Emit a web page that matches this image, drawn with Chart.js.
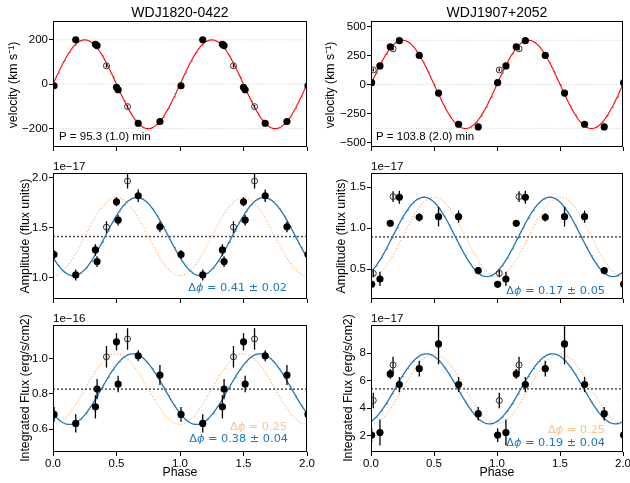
<!DOCTYPE html>
<html><head><meta charset="utf-8">
<script src="https://cdn.jsdelivr.net/npm/chart.js@4.4.1/dist/chart.umd.min.js"></script>
<style>
html,body{margin:0;padding:0;background:#fff}
body{width:630px;height:483px;position:relative;overflow:hidden}
canvas{position:absolute}
</style>
</head><body>
<script>
// ---------- data ----------
const phaseTicks = [0, 0.5, 1, 1.5, 2];
const phaseTickLabels = ['0.0', '0.5', '1.0', '1.5', '2.0'];
const cycles = [0, 1, 2];

// WDJ1820-0422
const a_phase = [0.008, 0.179, 0.334, 0.347, 0.500, 0.513, 0.671, 0.842];
const a_phaseOpen = [0.421, 0.587];
const a_vel = [-7, 200, 180, 174, -14, -25, -176, -168];
const a_velErr = [6, 6, 6, 6, 6, 6, 6, 6];
const a_velOpen = [83, -101];
const a_velOpenErr = [8, 8];
const a_amp = [1.233, 1.030, 1.280, 1.163, 1.760, 1.577, 1.820, 1.510];
const a_ampErr = [0.045, 0.055, 0.057, 0.053, 0.045, 0.053, 0.063, 0.053];
const a_ampOpen = [1.507, 1.967];
const a_ampOpenErr = [0.058, 0.075];
const a_flux = [0.683, 0.632, 0.726, 0.826, 1.094, 0.855, 1.015, 0.906];
const a_fluxErr = [0.042, 0.052, 0.066, 0.057, 0.049, 0.047, 0.031, 0.057];
const a_fluxOpen = [1.009, 1.110];
const a_fluxOpenErr = [0.061, 0.061];

// WDJ1907+2052
const b_phase = [0.005, 0.071, 0.153, 0.225, 0.383, 0.536, 0.695, 0.851];
const b_phaseOpen = [0.018, 0.175];
const b_vel = [14, 159, 324, 376, 249, -75, -344, -367];
const b_velErr = [10, 10, 10, 10, 10, 10, 10, 10];
const b_velOpen = [124, 306];
const b_velOpenErr = [14, 14];
const b_amp = [0.317, 0.382, 1.061, 1.378, 1.134, 1.142, 1.142, 0.484];
const b_ampErr = [0.037, 0.087, 0.040, 0.080, 0.050, 0.120, 0.075, 0.043];
const b_ampOpen = [0.451, 1.386];
const b_ampOpenErr = [0.047, 0.067];
const b_flux = [2.04, 2.23, 6.50, 5.72, 6.88, 8.68, 5.72, 3.60];
const b_fluxErr = [0.50, 0.95, 0.36, 0.55, 0.58, 1.48, 0.55, 0.49];
const b_fluxOpen = [4.56, 7.15];
const b_fluxOpenErr = [0.57, 0.60];

// fitted sinusoids: [WDJ1820-0422, WDJ1907+2052]
const velSemiAmp = [200, 380];
const velPeakPhase = [0.25, 0.25];
const ampMean = [1.413, 0.895];
const ampSemi = [0.390, 0.484];
const ampPeakPhase = [0.66, 0.42];
const fluxMean = [0.826, 5.41];
const fluxSemi = [0.200, 2.55];
const fluxPeakPhase = [0.63, 0.44];
const refPeakPhase = [0.50, 0.50];

// tick values
const velTicksA = [-200, 0, 200];
const velTicksB = [-500, -250, 0, 250, 500];
const ampTicksA = [1.0, 1.5, 2.0];
const ampTicksB = [0.5, 1.0, 1.5];
const fluxTicksA = [0.6, 0.8, 1.0];
const fluxTicksB = [2, 4, 6, 8];

// ---------- helpers ----------
const FONT = "'Liberation Sans', Arial, Helvetica, sans-serif";
const MFONT = "'DejaVu Sans', sans-serif";
const BLUE = '#1f77b4';
const ORANGE = 'rgba(255,127,14,0.65)';
const ORANGE_TXT = 'rgba(255,127,14,0.5)';
const TICK_SIZE = 11.5;
const LABEL_SIZE = 12.3;

function fitCurve(mean, semi, peak) {
  const pts = [];
  for (let i = 0; i <= 300; i++) {
    const x = 2 * i / 300;
    pts.push({x: x, y: mean + semi * Math.cos(2 * Math.PI * (x - peak))});
  }
  return pts;
}
function folded(ph, vals, errs) {
  const pts = [];
  cycles.forEach(c => ph.forEach((p, i) => pts.push({x: p + c, y: vals[i], e: errs ? errs[i] : 0})));
  return pts;
}
function hline(v) { return [{x: 0, y: v}, {x: 2, y: v}]; }

function filledSet(ph, v, e) {
  return {data: folded(ph, v, e), showLine: false, pointRadius: 3.6, pointBorderWidth: 0,
    pointBackgroundColor: '#000', pointBorderColor: '#000', errorBars: true, clip: 0, order: 0};
}
function openSet(ph, v, e) {
  return {data: folded(ph, v, e), showLine: false, pointRadius: 3, pointBorderWidth: 1,
    pointBackgroundColor: 'rgba(0,0,0,0)', pointBorderColor: '#333', errorBars: true, clip: 0, order: 1};
}
function lineSet(pts, color, width, dash, order) {
  return {data: pts, showLine: true, pointRadius: 0, borderColor: color, borderWidth: width,
    borderDash: dash || [], fill: false, clip: 0, order: order};
}

const errorBars = {
  id: 'errorBars',
  beforeDatasetDraw(chart, args) {
    const ds = chart.data.datasets[args.index];
    if (!ds.errorBars) return;
    const {ctx, chartArea: a, scales: {x, y}} = chart;
    ctx.save();
    ctx.beginPath(); ctx.rect(a.left, a.top, a.right - a.left, a.bottom - a.top); ctx.clip();
    ctx.strokeStyle = '#000'; ctx.lineWidth = 1.3;
    ds.data.forEach(p => {
      if (!p.e) return;
      const px = x.getPixelForValue(p.x);
      ctx.beginPath();
      ctx.moveTo(px, y.getPixelForValue(p.y - p.e));
      ctx.lineTo(px, y.getPixelForValue(p.y + p.e));
      ctx.stroke();
    });
    ctx.restore();
  }
};
const frame = {
  id: 'frame',
  afterDatasetsDraw(chart) {
    const {ctx, chartArea: a} = chart;
    ctx.save(); ctx.strokeStyle = '#000'; ctx.lineWidth = 1;
    ctx.strokeRect(Math.round(a.left) + 0.5, Math.round(a.top) + 0.5,
      Math.round(a.right - a.left) - 1, Math.round(a.bottom - a.top) - 1);
    ctx.restore();
  }
};

function drawSegments(ctx, segs, x, y, align, size, color) {
  const fonts = segs.map(s => (s.it ? 'italic ' : '') + size + 'px ' + MFONT);
  let w = 0;
  segs.forEach((s, i) => { ctx.font = fonts[i]; w += ctx.measureText(s.t).width; });
  let cx = align === 'right' ? x - w : (align === 'center' ? x - w / 2 : x);
  ctx.fillStyle = color; ctx.textBaseline = 'middle'; ctx.textAlign = 'left';
  segs.forEach((s, i) => { ctx.font = fonts[i]; ctx.fillText(s.t, cx, y); cx += ctx.measureText(s.t).width; });
}

function makeTextPlugin(texts, ox, oy) {
  return {
    id: 'texts',
    afterDraw(chart) {
      const ctx = chart.ctx;
      texts.forEach(t => {
        ctx.save();
        const x = t.x - ox, y = t.y - oy;
        if (t.segs) { drawSegments(ctx, t.segs, x, y, t.align, t.size || 11, t.color || '#000'); ctx.restore(); return; }
        ctx.font = (t.size || 11) + 'px ' + (t.font || FONT);
        ctx.fillStyle = t.color || '#000';
        ctx.textAlign = t.align || 'left';
        ctx.textBaseline = 'middle';
        ctx.translate(x, y);
        if (t.rot) ctx.rotate(-Math.PI / 2);
        ctx.fillText(t.text, 0, 0);
        ctx.restore();
      });
    }
  };
}

function dphi(val, color, x, y) {
  return {segs: [{t: 'Δ'}, {t: 'ϕ', it: true}, {t: ' = ' + val}], x: x, y: y, align: 'right', color: color, size: 11.3};
}

function makeChart(p) {
  const [cl, ct, cw, ch] = p.canvas;
  const [pl, pt, pr, pb] = p.plot;
  const cv = document.createElement('canvas');
  cv.width = cw; cv.height = ch;
  cv.style.left = cl + 'px'; cv.style.top = ct + 'px';
  cv.style.width = cw + 'px'; cv.style.height = ch + 'px';
  document.body.appendChild(cv);
  const tickFont = {family: FONT, size: TICK_SIZE};
  new Chart(cv, {
    type: 'scatter',
    data: {datasets: p.datasets},
    options: {
      responsive: false, animation: false, devicePixelRatio: 1, events: [],
      layout: {padding: {left: 0, top: pt - ct, right: (cl + cw) - pr, bottom: 0}},
      plugins: {legend: {display: false}, tooltip: {enabled: false}, title: {display: false}},
      scales: {
        x: {
          type: 'linear', min: 0, max: 2,
          afterBuildTicks: s => { s.ticks = phaseTicks.map(v => ({value: v})); },
          ticks: {autoSkip: false, maxRotation: 0, padding: 1, color: '#000', font: tickFont,
            callback: v => p.xLabels ? phaseTickLabels[phaseTicks.indexOf(v)] : ''},
          grid: {drawOnChartArea: false, drawTicks: true, tickLength: 4, color: '#000', tickColor: '#000', lineWidth: 1},
          border: {display: false},
          afterFit: s => { s.height = (ct + ch) - pb; s.paddingLeft = 0; s.paddingRight = 0; }
        },
        y: {
          type: 'linear', min: p.ymin, max: p.ymax,
          afterBuildTicks: s => { s.ticks = p.yTicks.map(v => ({value: v})); },
          ticks: {autoSkip: false, padding: 1, color: '#000', font: tickFont,
            callback: v => p.yFmt(v)},
          grid: {drawOnChartArea: false, drawTicks: true, tickLength: 4, color: '#000', tickColor: '#000', lineWidth: 1},
          border: {display: false},
          afterFit: s => { s.width = pl - cl; s.paddingTop = 0; s.paddingBottom = 0; }
        }
      }
    },
    plugins: [errorBars, frame, makeTextPlugin(p.texts, cl, ct)]
  });
}

const minus = s => s.replace('-', '\u2212');
const fmtInt = v => minus(String(v));
const fmt1 = v => v.toFixed(1);

function velSets(k, ph, v, e, phO, vO, eO) {
  return [
    lineSet(hline(velSemiAmp[k]), '#c8c8c8', 0.8, [1, 1.5], 6),
    lineSet(hline(0), '#c8c8c8', 0.8, [1, 1.5], 6),
    lineSet(hline(-velSemiAmp[k]), '#c8c8c8', 0.8, [1, 1.5], 6),
    lineSet(fitCurve(0, velSemiAmp[k], velPeakPhase[k]), '#ff0000', 1.1, null, 3),
    filledSet(ph, v, e), openSet(phO, vO, eO)
  ];
}
function modSets(mean, semi, peak, refPeak, ph, v, e, phO, vO, eO) {
  return [
    lineSet(hline(mean), 'rgba(0,0,0,0.7)', 1.5, [2, 2], 6),
    lineSet(fitCurve(mean, semi, refPeak), ORANGE, 1.2, [1, 2], 5),
    lineSet(fitCurve(mean, semi, peak), BLUE, 1.3, null, 4),
    filledSet(ph, v, e), openSet(phO, vO, eO)
  ];
}

const panels = [
  { canvas: [0, 0, 340, 160], plot: [53, 21, 307, 147], ymin: -283, ymax: 285, yTicks: velTicksA, yFmt: fmtInt,
    datasets: velSets(0, a_phase, a_vel, a_velErr, a_phaseOpen, a_velOpen, a_velOpenErr),
    texts: [
      {text: 'WDJ1820-0422', x: 180, y: 13, align: 'center', size: 14},
      {text: 'P = 95.3 (1.0) min', x: 59, y: 137, size: 11.5},
      {text: 'velocity (km s\u207B\u00B9)', x: 14, y: 85, align: 'center', rot: true, size: LABEL_SIZE}
    ]},
  { canvas: [310, 0, 320, 160], plot: [371, 21, 623, 147], ymin: -540, ymax: 546, yTicks: velTicksB, yFmt: fmtInt,
    datasets: velSets(1, b_phase, b_vel, b_velErr, b_phaseOpen, b_velOpen, b_velOpenErr),
    texts: [
      {text: 'WDJ1907+2052', x: 497, y: 13, align: 'center', size: 14},
      {text: 'P = 103.8 (2.0) min', x: 376, y: 137, size: 11.5},
      {text: 'velocity (km s\u207B\u00B9)', x: 331, y: 85, align: 'center', rot: true, size: LABEL_SIZE}
    ]},
  { canvas: [0, 160, 340, 152], plot: [53, 173, 307, 299], ymin: 0.79, ymax: 2.047, yTicks: ampTicksA, yFmt: fmt1,
    datasets: modSets(ampMean[0], ampSemi[0], ampPeakPhase[0], refPeakPhase[0], a_phase, a_amp, a_ampErr, a_phaseOpen, a_ampOpen, a_ampOpenErr),
    texts: [
      {text: '1e\u221217', x: 53, y: 167, size: 11.5},
      {text: 'Amplitude (flux units)', x: 26, y: 236, align: 'center', rot: true, size: LABEL_SIZE},
      dphi('0.41 ± 0.02', BLUE, 287, 288)
    ]},
  { canvas: [310, 160, 320, 152], plot: [371, 173, 623, 299], ymin: 0.138, ymax: 1.674, yTicks: ampTicksB, yFmt: fmt1,
    datasets: modSets(ampMean[1], ampSemi[1], ampPeakPhase[1], refPeakPhase[1], b_phase, b_amp, b_ampErr, b_phaseOpen, b_ampOpen, b_ampOpenErr),
    texts: [
      {text: '1e\u221217', x: 371, y: 167, size: 11.5},
      {text: 'Amplitude (flux units)', x: 342, y: 236, align: 'center', rot: true, size: LABEL_SIZE},
      dphi('0.17 ± 0.05', BLUE, 605, 291)
    ]},
  { canvas: [0, 312, 340, 171], plot: [53, 325, 307, 452], ymin: 0.47, ymax: 1.189, yTicks: fluxTicksA, yFmt: fmt1, xLabels: true,
    datasets: modSets(fluxMean[0], fluxSemi[0], fluxPeakPhase[0], refPeakPhase[0], a_phase, a_flux, a_fluxErr, a_phaseOpen, a_fluxOpen, a_fluxOpenErr),
    texts: [
      {text: '1e\u221216', x: 53, y: 319, size: 11.5},
      {text: 'Integrated Flux (erg/s/cm2)', x: 26, y: 388, align: 'center', rot: true, size: LABEL_SIZE},
      dphi('0.25', ORANGE_TXT, 287, 427),
      dphi('0.38 ± 0.04', BLUE, 288, 439),
      {text: 'Phase', x: 180, y: 473, align: 'center', size: LABEL_SIZE}
    ]},
  { canvas: [310, 312, 320, 171], plot: [371, 325, 623, 452], ymin: 0.81, ymax: 10.06, yTicks: fluxTicksB, yFmt: fmtInt, xLabels: true,
    datasets: modSets(fluxMean[1], fluxSemi[1], fluxPeakPhase[1], refPeakPhase[1], b_phase, b_flux, b_fluxErr, b_phaseOpen, b_fluxOpen, b_fluxOpenErr),
    texts: [
      {text: '1e\u221217', x: 371, y: 319, size: 11.5},
      {text: 'Integrated Flux (erg/s/cm2)', x: 349, y: 388, align: 'center', rot: true, size: LABEL_SIZE},
      dphi('0.25', ORANGE_TXT, 605, 430),
      dphi('0.19 ± 0.04', BLUE, 605, 443),
      {text: 'Phase', x: 497, y: 473, align: 'center', size: LABEL_SIZE}
    ]}
];

panels.forEach(makeChart);
</script>
</body></html>
